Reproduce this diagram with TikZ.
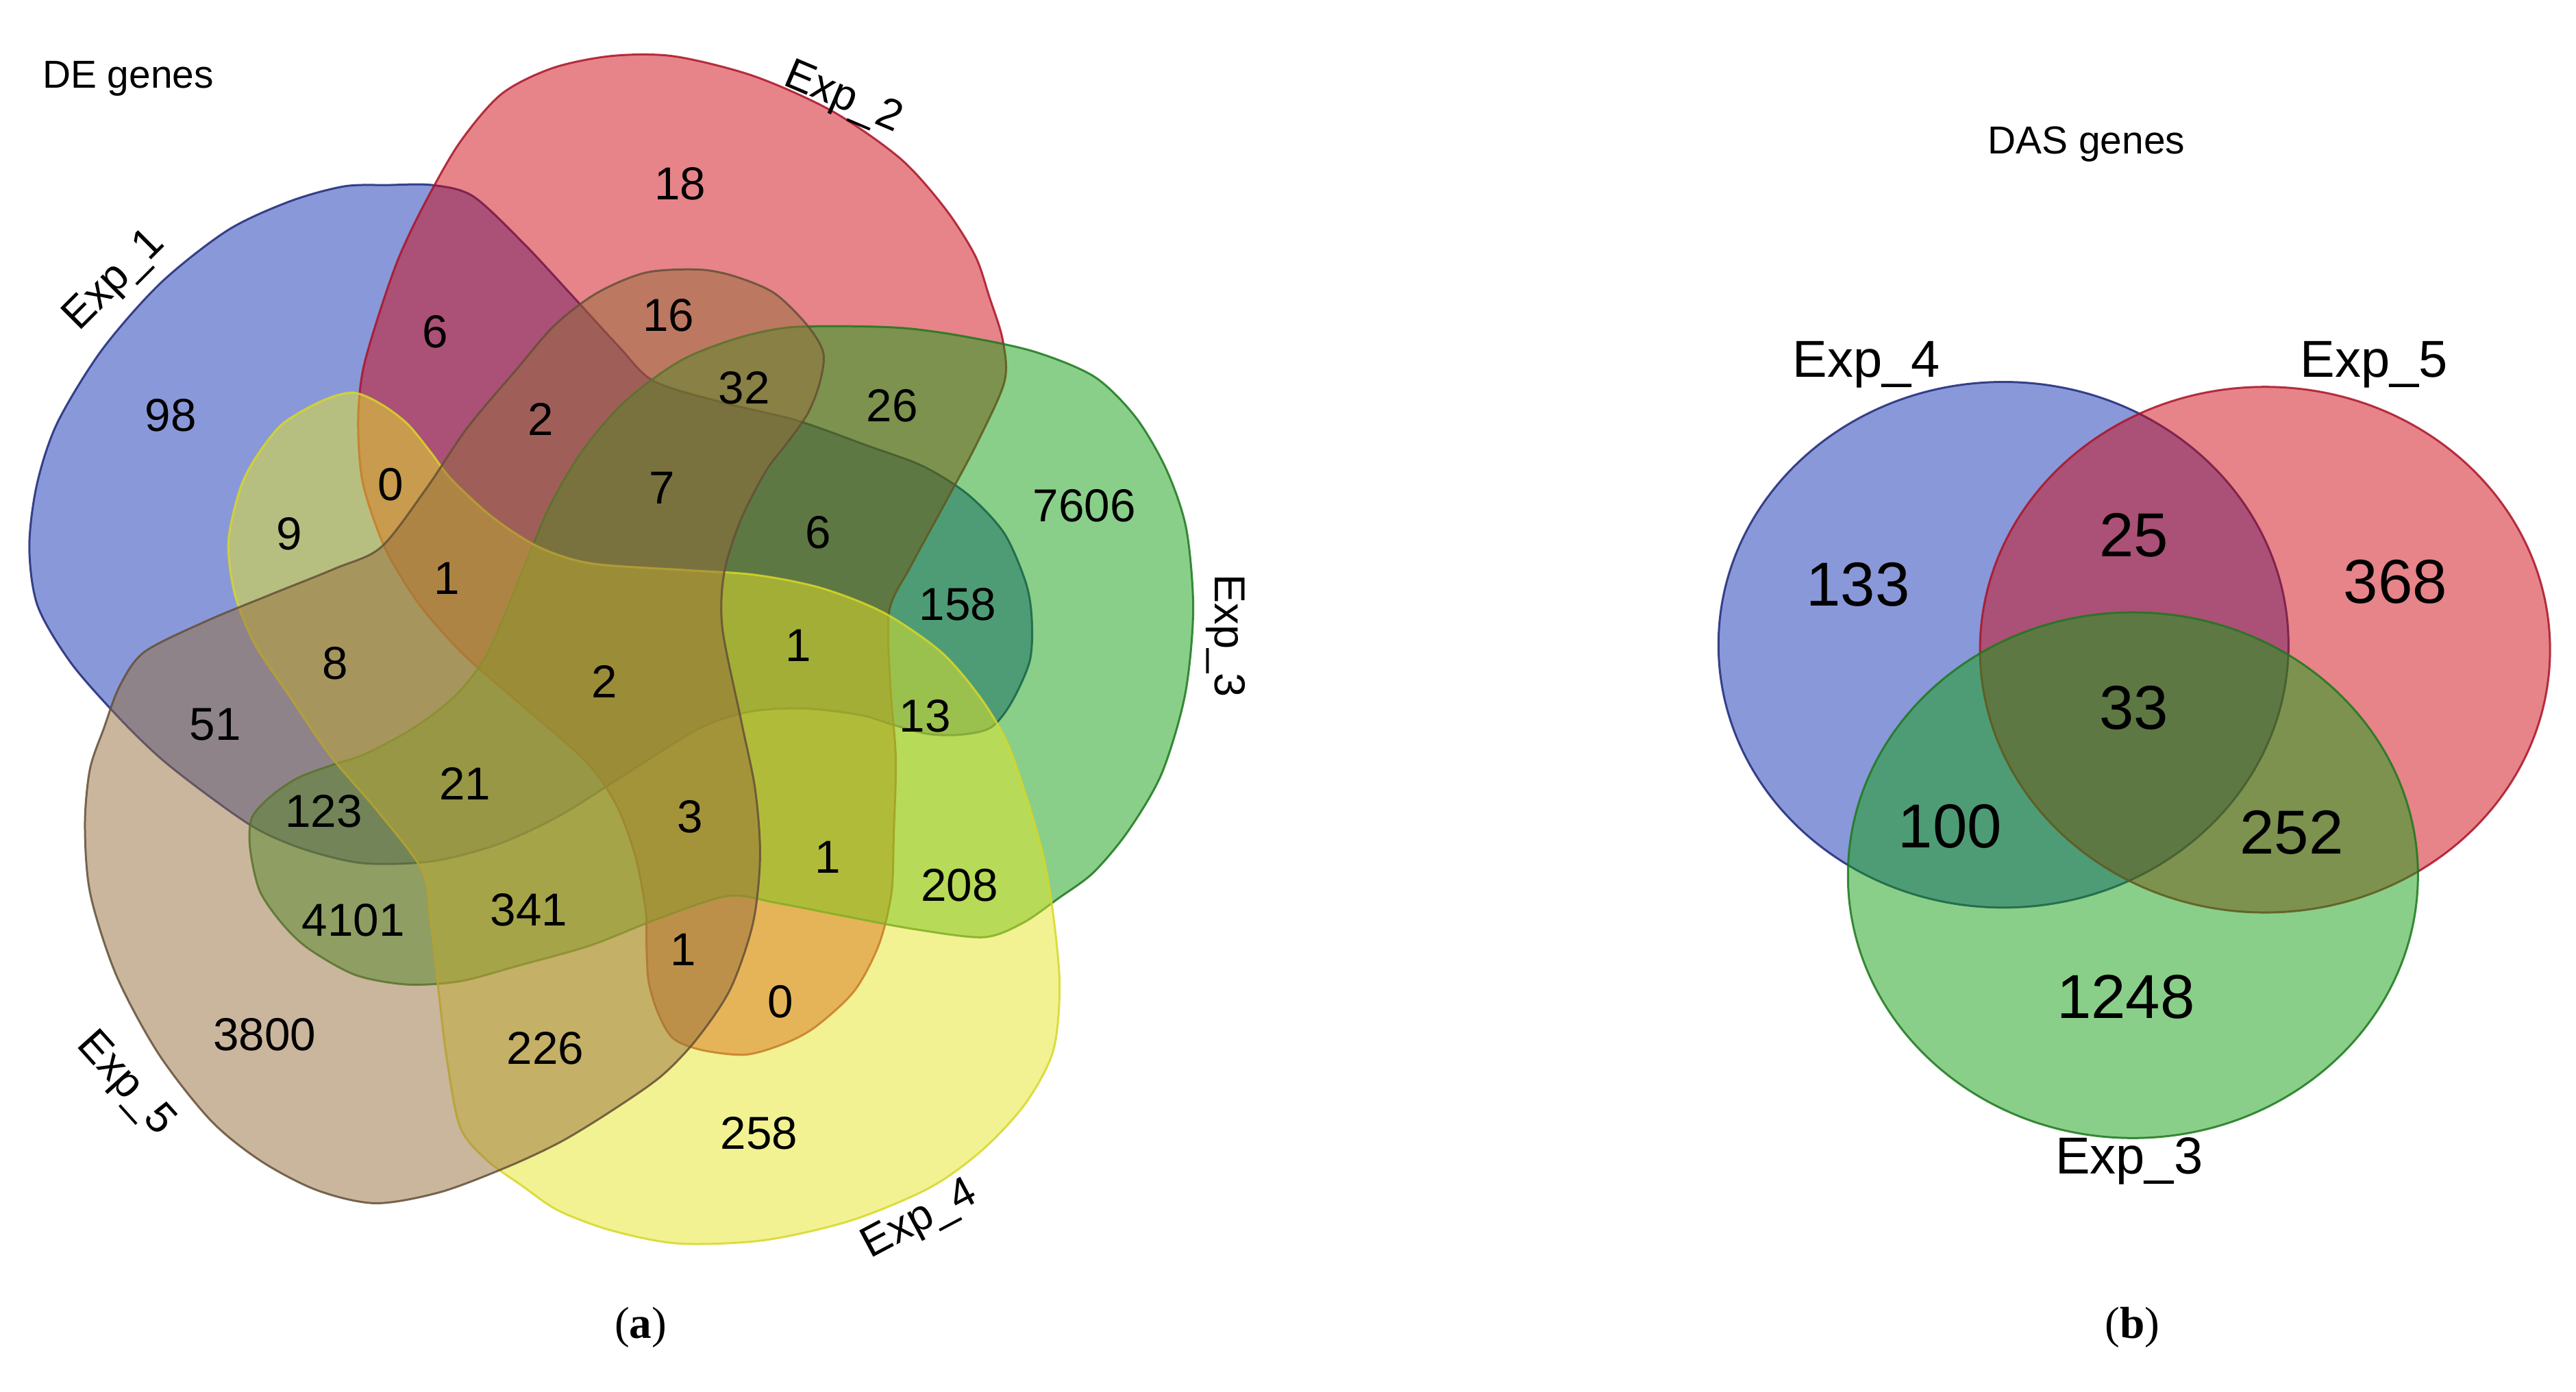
\documentclass[tikz,border=0pt]{standalone}
\usepackage{fontspec}
\setmainfont{Liberation Sans}
\newfontfamily\capfont{Liberation Serif}
\definecolor{expblue}{RGB}{20,50,180}
\definecolor{expred}{RGB}{205,10,20}
\definecolor{expgreen}{RGB}{20,160,20}
\definecolor{expyellow}{RGB}{230,230,40}
\definecolor{expbrown}{RGB}{150,110,60}
\definecolor{edgblue}{RGB}{30,40,120}
\definecolor{edgred}{RGB}{170,20,40}
\definecolor{edggreen}{RGB}{30,120,30}
\definecolor{edgyellow}{RGB}{215,215,40}
\definecolor{edgbrown}{RGB}{100,80,55}
\tikzset{
 blob/.style={fill opacity=0.5, draw opacity=0.85, line width=0.25mm},
 cnt/.style={inner sep=0pt, font=\fontsize{16}{18}\selectfont},
 bigcnt/.style={inner sep=0pt, font=\fontsize{21.5}{24}\selectfont},
 setlbl/.style={inner sep=0pt, font=\fontsize{15}{17}\selectfont},
 biglbl/.style={inner sep=0pt, font=\fontsize{18}{20}\selectfont},
 ttl/.style={inner sep=0pt, font=\fontsize{13.5}{15}\selectfont},
 subcap/.style={inner sep=0pt, font=\capfont\fontsize{15.5}{18}\selectfont},
 lobe/.pic={
 	\filldraw[blob] plot[smooth cycle] coordinates {
 	(139,330) (146,298) (156,278) (172,258) (196,244) (215,239) (232,246) (248,258) (262,275) (275,292)
 	(300,315) (328,333) (360,343) (417,347) (460,350) (500,358) (538,373) (573,397) (597,425) (613,452)
 	(625,486) (635,521) (641,556) (645,600) (641,640) (624,672) (598,700) (566,723) (518,743) (465,755)
 	(413,757) (372,749) (340,737) (318,722) (296,706) (280,686) (272,645) (267,604) (262,560) (257,530)
 	(230,494) (201,460) (175,422) (155,392) (143,362)};}
}
\begin{document}
\begin{tikzpicture}[x=0.2mm,y=-0.2mm]
 \useasboundingbox (0,0) rectangle (1568,847);
 % (a) the Exp_4 lobe, turned round the middle (376,404) for the others
 \pic[fill=expblue, draw=edgblue, rotate around={216:(376,404)}] {lobe};
 \pic[fill=expred, draw=edgred, shift={(420,0)}, xscale=0.96, shift={(-420,0)}, rotate around={144:(376,404)}] {lobe};
 \pic[fill=expgreen, draw=edggreen, shift={(-16,324)}, yscale=0.954, shift={(0,-324)}, rotate around={72:(376,404)}] {lobe};
 \pic[fill=expyellow, draw=edgyellow] {lobe};
 \pic[fill=expbrown, draw=edgbrown, rotate around={-2.5:(150,620)}, rotate around={288:(376,404)}] {lobe};
 \foreach \x/\y/\t [count=\i] in {104/253/98,414/112/18,265/202/6,407/192/16,453/236/32,543/247/26,660/308/7606,
 	329/255/2,403/297/7,238/295/0,176/325/9,272/352/1,498/324/6,583/368/158,204/404/8,368/415/2,486/393/1,
 	563/436/13,131/441/51,283/477/21,420/497/3,197/494/123,504/522/1,584/539/208,215/560/4101,322/554/341,
 	416/578/1,475/610/0,161/630/3800,332/638/226,462/690/258}{
 	\node[cnt] (a\i) at (\x,\y) {\t};}
 \node[ttl] (detitle) at (78,48) {DE genes};
 \node[setlbl, rotate=45] (exp1) at (70,171) {Exp\_1};
 \node[setlbl, rotate=-23] (exp2) at (513,60) {Exp\_2};
 \node[setlbl, rotate=-90] (exp3) at (746,387) {Exp\_3};
 \node[setlbl, rotate=28] (exp4) at (560,743) {Exp\_4};
 \node[setlbl, rotate=-48] (exp5) at (76,660) {Exp\_5};
 % (b) three ellipses
 \filldraw[blob, fill=expblue, draw=edgblue] (1219.5,392.5) ellipse [x radius=34.7mm, y radius=32mm];
 \filldraw[blob, fill=expred, draw=edgred] (1378.7,395.5) ellipse [x radius=34.7mm, y radius=32mm];
 \filldraw[blob, fill=expgreen, draw=edggreen] (1298.3,532.8) ellipse [x radius=34.7mm, y radius=32mm];
 \foreach \x/\y/\t [count=\i] in {1131/356/133,1299/326/25,1458/354/368,1299/431/33,1187/503/100,1395/507/252,1294/607/1248}{
 	\node[bigcnt] (b\i) at (\x,\y) {\t};}
 \node[ttl] (dastitle) at (1270,88) {DAS genes};
 \node[biglbl] (bexp4) at (1136,222) {Exp\_4};
 \node[biglbl] (bexp5) at (1445,222) {Exp\_5};
 \node[biglbl] (bexp3) at (1296,707) {Exp\_3};
 \node[subcap] (capa) at (390,808) {(\textbf{a})};
 \node[subcap] (capb) at (1298,808) {(\textbf{b})};
\end{tikzpicture}
\end{document}
